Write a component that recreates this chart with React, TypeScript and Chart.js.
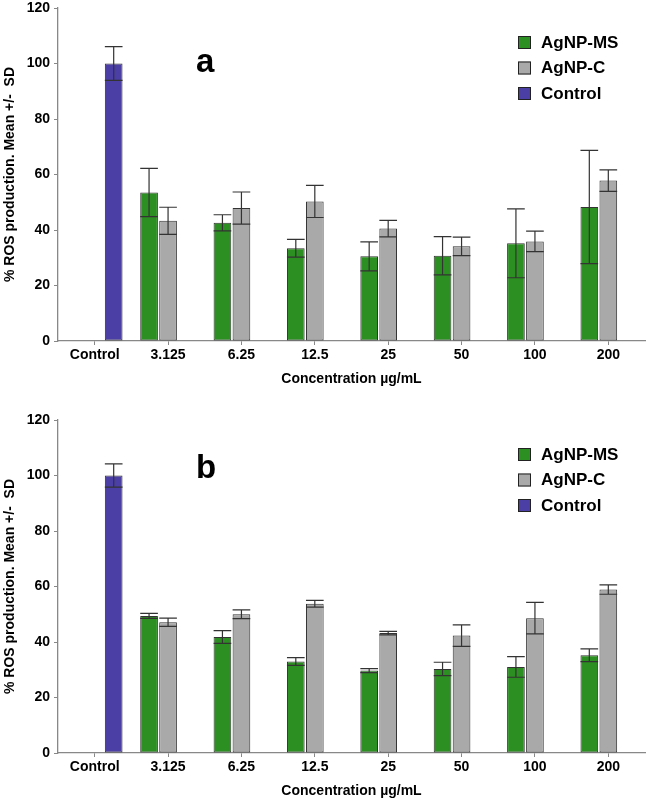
import React, { useEffect, useRef } from "react";
import { Chart, registerables } from "chart.js";
Chart.register(...registerables);

const categories = ["Control", "3.125", "6.25", "12.5", "25", "50", "100", "200"];

// Panel a
const msA = [null, 53.5, 42.6, 33.4, 30.5, 30.7, 35.2, 48.3];
const msSdA = [null, 8.7, 2.9, 3.2, 5.2, 6.9, 12.4, 20.4];
const cA = [null, 43.3, 47.9, 50.3, 40.5, 34.1, 35.9, 57.8];
const cSdA = [null, 4.9, 5.8, 5.8, 3.0, 3.3, 3.7, 3.9];
const ctrlA = [100, null, null, null, null, null, null, null];
const ctrlSdA = [6.1, null, null, null, null, null, null, null];

// Panel b
const msB = [null, 49.4, 41.8, 33.0, 29.7, 30.3, 31.0, 35.2];
const msSdB = [null, 0.9, 2.3, 1.4, 0.7, 2.4, 3.7, 2.3];
const cB = [null, 47.1, 50.0, 53.8, 43.2, 42.3, 48.6, 58.9];
const cSdB = [null, 1.5, 1.6, 1.2, 0.6, 3.9, 5.7, 1.7];
const ctrlB = [100, null, null, null, null, null, null, null];
const ctrlSdB = [4.2, null, null, null, null, null, null, null];

const seriesLabels = ["AgNP-MS", "AgNP-C", "Control"];
const seriesColors = ["#2c8f22", "#a9a9a9", "#4b3fa6"];
const yTicks = [0, 20, 40, 60, 80, 100, 120];

const FONT = 'Arial, "Liberation Sans", sans-serif';

const errorBarPlugin = {
  id: "errorBars",
  afterDatasetsDraw(chart: any) {
    const ctx = chart.ctx;
    const y = chart.scales.y;
    ctx.save();
    ctx.strokeStyle = "#333";
    ctx.lineWidth = 1.2;
    chart.data.datasets.forEach((ds: any, i: number) => {
      const meta = chart.getDatasetMeta(i);
      meta.data.forEach((el: any, j: number) => {
        const v = ds.data[j];
        const sd = ds.sd ? ds.sd[j] : null;
        if (v == null || sd == null) return;
        const top = y.getPixelForValue(v + sd);
        const bot = y.getPixelForValue(v - sd);
        const half = el.width / 2;
        ctx.beginPath();
        ctx.moveTo(el.x, top);
        ctx.lineTo(el.x, bot);
        ctx.moveTo(el.x - half, top);
        ctx.lineTo(el.x + half, top);
        ctx.moveTo(el.x - half, bot);
        ctx.lineTo(el.x + half, bot);
        ctx.stroke();
      });
    });
    ctx.restore();
  },
};

const insideLegendPlugin = {
  id: "insideLegend",
  afterDraw(chart: any, _args: any, opts: any) {
    const ctx = chart.ctx;
    const area = chart.chartArea;
    ctx.save();
    const bx = area.right - 127;
    chart.data.datasets.forEach((ds: any, i: number) => {
      const cy = area.top + 34.5 + i * 25.5;
      ctx.fillStyle = ds.backgroundColor;
      ctx.fillRect(bx, cy - 6.5, 13, 13);
      ctx.strokeStyle = "#222";
      ctx.lineWidth = 1;
      ctx.strokeRect(bx + 0.5, cy - 6, 12, 12);
      ctx.fillStyle = "#000";
      ctx.font = `bold 17px ${FONT}`;
      ctx.textBaseline = "middle";
      ctx.textAlign = "left";
      ctx.fillText(ds.label, bx + 23, cy + 0.5);
    });
    if (opts && opts.panel) {
      ctx.font = `bold 33px ${FONT}`;
      ctx.textBaseline = "alphabetic";
      ctx.fillText(opts.panel, 196, area.top + opts.panelDy);
    }
    ctx.restore();
  },
};

type PanelProps = {
  ms: (number | null)[];
  msSd: (number | null)[];
  c: (number | null)[];
  cSd: (number | null)[];
  ctrl: (number | null)[];
  ctrlSd: (number | null)[];
  height: number;
  padTop: number;
  padBottom: number;
  panel: string;
  panelDy: number;
};

function Panel(p: PanelProps) {
  const ref = useRef<HTMLCanvasElement | null>(null);
  useEffect(() => {
    if (!ref.current) return;
    const chart = new Chart(ref.current, {
      type: "bar",
      data: {
        labels: categories,
        datasets: [
          { label: seriesLabels[0], data: p.ms, sd: p.msSd, backgroundColor: seriesColors[0] } as any,
          { label: seriesLabels[1], data: p.c, sd: p.cSd, backgroundColor: seriesColors[1] } as any,
          { label: seriesLabels[2], data: p.ctrl, sd: p.ctrlSd, backgroundColor: seriesColors[2] } as any,
        ].map((d: any) => ({
          ...d,
          borderColor: "#333",
          borderWidth: 1,
          borderSkipped: false,
          categoryPercentage: 0.777,
          barPercentage: 0.93,
        })),
      },
      options: {
        responsive: false,
        animation: false,
        layout: { padding: { top: p.padTop, right: 2, bottom: p.padBottom, left: 0 } },
        plugins: {
          legend: { display: false },
          tooltip: { enabled: false },
          insideLegend: { panel: p.panel, panelDy: p.panelDy },
        } as any,
        scales: {
          x: {
            offset: true,
            grid: { offset: false, drawOnChartArea: false, drawTicks: true, tickLength: 4, color: "#888" },
            border: { color: "#888", width: 1.3 },
            ticks: { color: "#000", font: { family: FONT, size: 14, weight: "bold" }, padding: 2, maxRotation: 0, autoSkip: false },
            title: {
              display: true,
              text: "Concentration µg/mL",
              color: "#000",
              font: { family: FONT, size: 14, weight: "bold" },
              padding: { top: 0, bottom: 0 },
            },
            afterFit: (s: any) => {
              s.height = 46.4;
              s.paddingLeft = 0;
              s.paddingRight = 0;
            },
          },
          y: {
            min: 0,
            max: 120,
            afterBuildTicks: (s: any) => {
              s.ticks = yTicks.map((v) => ({ value: v }));
            },
            grid: { drawOnChartArea: false, drawTicks: true, tickLength: 4, color: "#888" },
            border: { color: "#888", width: 1.3 },
            ticks: { color: "#000", font: { family: FONT, size: 14, weight: "bold" }, padding: 4 },
            title: {
              display: true,
              text: "% ROS production. Mean +/-  SD",
              color: "#000",
              font: { family: FONT, size: 14, weight: "bold" },
              padding: { top: 2, bottom: 0 },
            },
            afterFit: (s: any) => {
              s.width = 58;
              s.paddingTop = 0;
              s.paddingBottom = 0;
            },
          },
        },
      },
      plugins: [errorBarPlugin, insideLegendPlugin],
    } as any);
    return () => chart.destroy();
  }, []);
  return <canvas ref={ref} width={647} height={p.height} style={{ display: "block", width: 647, height: p.height }} />;
}

export default function App() {
  return (
    <div style={{ position: "absolute", left: 0, top: 0, width: 647, height: 801, background: "#fff" }}>
      <Panel ms={msA} msSd={msSdA} c={cA} cSd={cSdA} ctrl={ctrlA} ctrlSd={ctrlSdA} height={400} padTop={8} padBottom={12.6} panel="a" panelDy={64} />
      <Panel ms={msB} msSd={msSdB} c={cB} cSd={cSdB} ctrl={ctrlB} ctrlSd={ctrlSdB} height={401} padTop={20} padBottom={1.6} panel="b" panelDy={58} />
    </div>
  );
}
